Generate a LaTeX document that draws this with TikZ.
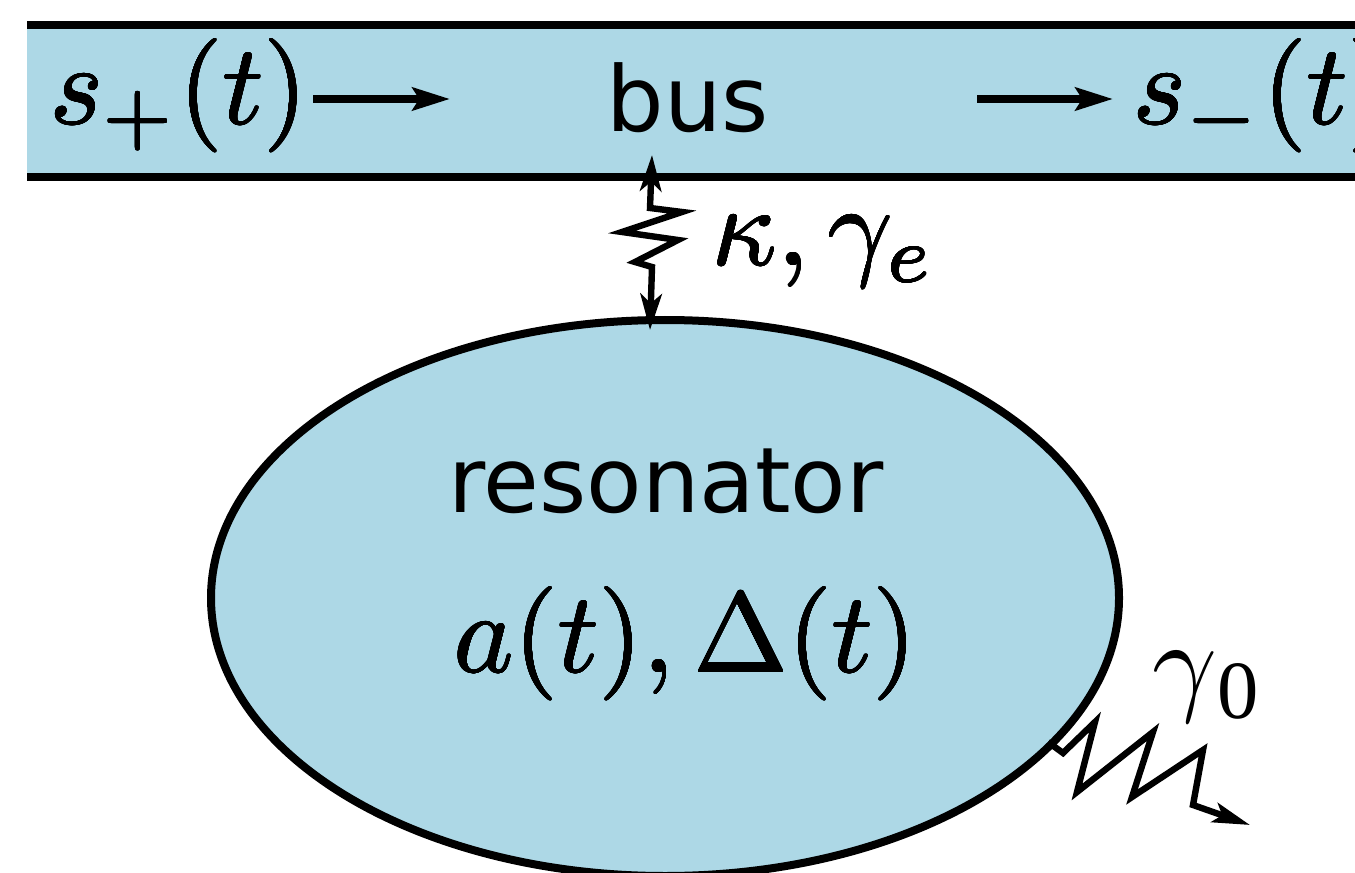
\documentclass[tikz,border=0pt]{standalone}
\usepackage{graphicx}
\usepackage{fontspec}
\usepackage{contour}
\contourlength{0.05pt}
\contournumber{16}
\newfontfamily\dejavu{DejaVu Sans}
\newfontfamily\timesf{Liberation Serif}
\usetikzlibrary{arrows.meta,shapes.geometric}
\definecolor{busblue}{RGB}{173,216,230}
\newcommand{\heavymath}[1]{\contour{black}{$#1$}}
\begin{document}
\begin{tikzpicture}[x=0.75pt,y=-0.75pt,
  sanslabel/.style={font=\dejavu\fontsize{68}{80}\selectfont, inner sep=0pt},
  mathlabel/.style={scale=8.5, inner sep=0pt},
  busline/.style={line width=6.5pt},
  flowarrow/.style={line width=6.6pt, -{Stealth[length=28pt,width=17pt,inset=5pt]}},
  zig/.style={line width=4.8pt, line join=miter},
  ktip/.tip={Stealth[length=27pt,width=16pt,inset=7pt]}
]
\useasboundingbox (0,0) rectangle (1355,873);
\clip (0,0) rectangle (1355,873);
% bus waveguide
\fill[busblue] (27,25) rectangle (1400,177);
\draw[busline] (27,25) -- (1400,25);
\draw[busline] (27,177) -- (1400,177);
\node[mathlabel, anchor=base west] (sp) at (48,124) {\heavymath{s_+(t)}};
\node[sanslabel, anchor=base] (bus) at (688,132) {bus};
\node[mathlabel, anchor=base west] (sm) at (1131,124) {\heavymath{s_-(t)}};
\coordinate (a1s) at (313,99);
\coordinate (a1e) at (450,99);
\coordinate (a2s) at (977,99);
\coordinate (a2e) at (1113,99);
\draw[flowarrow] (a1s) -- (a1e);
\draw[flowarrow] (a2s) -- (a2e);
% resonator
\node[ellipse, draw, fill=busblue, line width=6pt, minimum width=681pt, minimum height=417pt, inner sep=0pt, outer sep=0pt] (res) at (665,598) {};
\node[sanslabel, anchor=base] (restext) at (666,512) {resonator};
\node[mathlabel, anchor=base west] (adt) at (452,672) {\heavymath{a(t),\Delta(t)}};
% coupling
\coordinate (ktop) at (652,155);
\coordinate (kbot) at (650,330);
\draw[zig, ktip-ktip] (ktop) -- (650,208) -- (682,212) -- (622,232) -- (678,240) -- (635,262) -- (652,267) -- (kbot);
\node[mathlabel, anchor=base west] (kl) at (710,265) {\heavymath{\kappa,\gamma_e}};
% intrinsic loss
\coordinate (gs) at (1048,742);
\coordinate (gtip) at (1250,825);
\draw[zig, -{Stealth[length=28pt,width=15pt,inset=6pt]}] (gs) -- (1063,753) -- (1095,722) -- (1077,792) -- (1153,732) -- (1132,797) -- (1203,750) -- (1193,805) -- (gtip);
\node[anchor=base west, inner sep=0pt] (g0) at (1152,700) {\scalebox{8.5}{\fontsize{10}{12}\selectfont$\gamma$}\raisebox{-13.5pt}{\timesf\fontsize{62}{70}\selectfont 0}};
\end{tikzpicture}
\end{document}
